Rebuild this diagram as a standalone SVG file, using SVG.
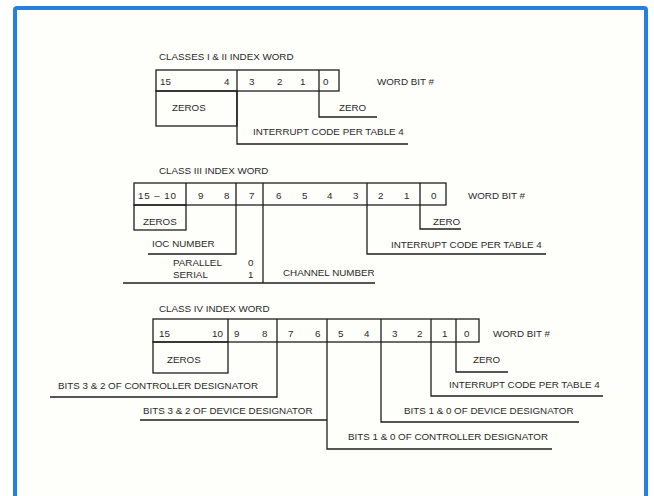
<svg xmlns="http://www.w3.org/2000/svg" width="654" height="496" viewBox="0 0 654 496">
<style>
text{font-family:"Liberation Sans",Arial,sans-serif;font-size:9.8px;letter-spacing:0;fill:#2a2a2a}
.b{fill:none;stroke:#1e1e1e;stroke-width:1.3}
.c{fill:none;stroke:#1e1e1e;stroke-width:1.3}
</style>
<rect x="0" y="0" width="654" height="496" fill="#ffffff"/>
<rect x="15" y="8" width="631" height="490" fill="#fefefb" stroke="#2580e0" stroke-width="4" rx="2"/>

<g id="class12">
<text x="159" y="60">CLASSES I &amp; II INDEX WORD</text>
<rect class="b" x="156" y="70" width="183" height="21"/>
<path class="b" d="M237,70V91M319,70V91"/>
<rect class="b" x="156" y="91" width="81" height="35"/>
<text x="160" y="85">15</text><text x="224" y="85">4</text>
<text x="249" y="85">3</text><text x="277" y="85">2</text><text x="300" y="85">1</text>
<text x="323" y="85">0</text>
<text x="377" y="85">WORD BIT #</text>
<text x="172" y="111">ZEROS</text>
<text x="339" y="111">ZERO</text>
<text x="253" y="135">INTERRUPT CODE PER TABLE 4</text>
</g>

<g id="class3">
<text x="159" y="174">CLASS III INDEX WORD</text>
<rect class="b" x="134" y="183" width="312" height="22"/>
<path class="b" d="M186,183V205M236,183V205M263,183V205M367,183V205M420,183V205"/>
<rect class="b" x="134" y="205" width="52" height="25"/>
<text x="138" y="199" textLength="38">15 – 10</text>
<text x="198" y="199">9</text><text x="224" y="199">8</text><text x="249" y="199">7</text>
<text x="276" y="199">6</text><text x="302" y="199">5</text><text x="327" y="199">4</text>
<text x="353" y="199">3</text><text x="378" y="199">2</text><text x="404" y="199">1</text>
<text x="431" y="199">0</text>
<text x="468" y="199">WORD BIT #</text>
<text x="143" y="225">ZEROS</text>
<text x="433" y="225">ZERO</text>
<text x="152" y="247">IOC NUMBER</text>
<text x="391" y="248">INTERRUPT CODE PER TABLE 4</text>
<text x="173" y="266">PARALLEL</text><text x="248" y="266">0</text>
<text x="173" y="278">SERIAL</text><text x="248" y="278">1</text>
<text x="283" y="276">CHANNEL NUMBER</text>
</g>

<g id="class4">
<text x="159" y="312">CLASS IV INDEX WORD</text>
<rect class="b" x="153" y="319" width="326" height="23"/>
<path class="b" d="M228,319V342M277,319V342M327,319V342M381,319V342M431,319V342M456,319V342"/>
<rect class="b" x="153" y="342" width="75" height="31"/>
<text x="159" y="337">15</text><text x="212" y="337">10</text>
<text x="234" y="337">9</text><text x="262" y="337">8</text>
<text x="288" y="337">7</text><text x="315" y="337">6</text>
<text x="338" y="337">5</text><text x="364" y="337">4</text>
<text x="392" y="337">3</text><text x="417" y="337">2</text>
<text x="442" y="337">1</text><text x="464" y="337">0</text>
<text x="493" y="337">WORD BIT #</text>
<text x="167" y="363">ZEROS</text>
<text x="473" y="363">ZERO</text>
<text x="58" y="389">BITS 3 &amp; 2 OF CONTROLLER DESIGNATOR</text>
<text x="449" y="388">INTERRUPT CODE PER TABLE 4</text>
<text x="143" y="414">BITS 3 &amp; 2 OF DEVICE DESIGNATOR</text>
<text x="404" y="414">BITS 1 &amp; 0 OF DEVICE DESIGNATOR</text>
<text x="348" y="440">BITS 1 &amp; 0 OF CONTROLLER DESIGNATOR</text>
</g>

<g id="connectors">
<path class="c" d="M319,91V117H377"/>
<path class="c" d="M237,91V144H408"/>
<path class="c" d="M236,205V254H148"/>
<path class="c" d="M263,205V283"/>
<path class="c" d="M123,283H375"/>
<path class="c" d="M367,205V254H546"/>
<path class="c" d="M420,205V229H461"/>
<path class="c" d="M277,342V397H50"/>
<path class="c" d="M327,342V449H552"/>
<path class="c" d="M140,420H327"/>
<path class="c" d="M381,342V422H579"/>
<path class="c" d="M431,342V396H603"/>
<path class="c" d="M456,342V372H508"/>
</g>
</svg>
